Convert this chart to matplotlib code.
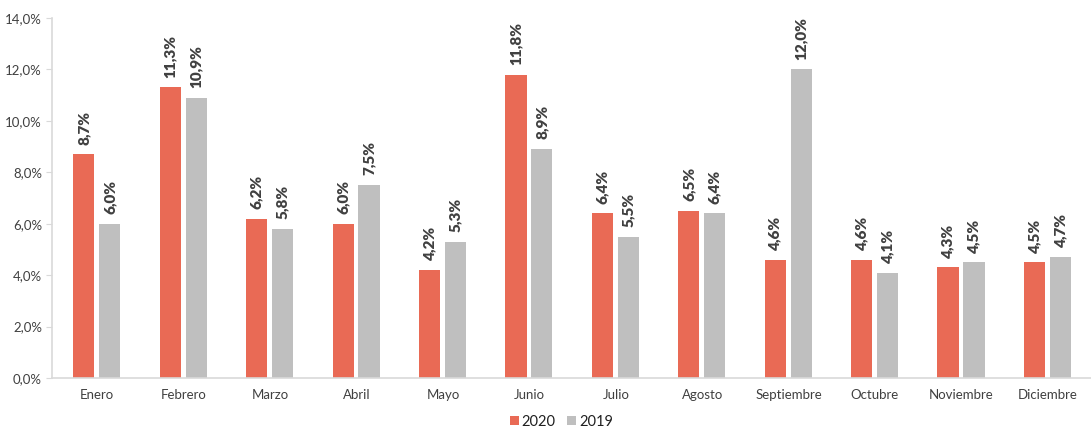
import matplotlib.pyplot as plt
import numpy as np
from matplotlib.ticker import FuncFormatter

plt.rcParams["font.family"] = ["Lato", "DejaVu Sans"]

months = ["Enero", "Febrero", "Marzo", "Abril", "Mayo", "Junio", "Julio",
          "Agosto", "Septiembre", "Octubre", "Noviembre", "Diciembre"]
vals_2020 = [8.7, 11.3, 6.2, 6.0, 4.2, 11.8, 6.4, 6.5, 4.6, 4.6, 4.3, 4.5]
vals_2019 = [6.0, 10.9, 5.8, 7.5, 5.3, 8.9, 5.5, 6.4, 12.0, 4.1, 4.5, 4.7]

red = "#E96A55"
grey = "#BFBFBF"
text_col = "#404040"

fig = plt.figure(figsize=(10.91, 4.30), dpi=100)
ax = fig.add_axes([0.048, 0.121, 0.952, 0.837])

x = np.arange(len(months))
w = 0.245
b1 = ax.bar(x - 0.155, vals_2020, w, color=red, label="2020")
b2 = ax.bar(x + 0.145, vals_2019, w, color=grey, label="2019")


def fmt(v):
    return f"{v:.1f}%".replace(".", ",")


for bars, vals in [(b1, vals_2020), (b2, vals_2019)]:
    for bar, v in zip(bars, vals):
        ax.annotate(fmt(v), (bar.get_x() + bar.get_width() / 2, v),
                    xytext=(0, 7), textcoords="offset points",
                    rotation=90, ha="center", va="bottom",
                    fontsize=11, fontweight="heavy", color=text_col)

ax.set_ylim(0, 14)
ax.set_yticks(np.arange(0, 14.1, 2))
ax.yaxis.set_major_formatter(FuncFormatter(lambda v, p: fmt(v)))
ax.set_xlim(-0.52, len(months) - 0.5)
ax.set_xticks(x)
ax.set_xticklabels(months)

for s in ["top", "right"]:
    ax.spines[s].set_visible(False)
for s in ["left", "bottom"]:
    ax.spines[s].set_color("#D9D9D9")
    ax.spines[s].set_linewidth(1.2)
ax.tick_params(axis="y", colors="#D9D9D9", labelcolor=text_col, labelsize=9.5, length=4)
ax.tick_params(axis="x", length=0, labelcolor=text_col, labelsize=9.5, pad=8)

ax.legend(loc="center", bbox_to_anchor=(0.49, -0.122), ncol=2, frameon=False,
          fontsize=10.5, handlelength=0.6, handleheight=0.6, handletextpad=0.2,
          columnspacing=0.8, labelcolor="#202020")

fig.savefig("out.png", dpi=100)
